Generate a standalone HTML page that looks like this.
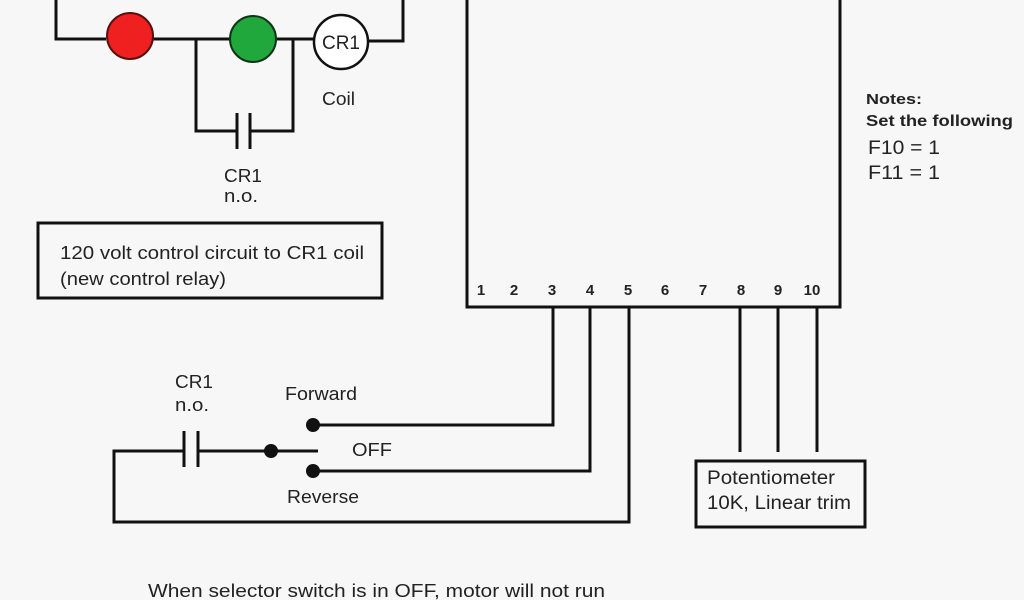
<!DOCTYPE html>
<html><head><meta charset="utf-8"><style>
html,body{margin:0;padding:0;background:#f7f7f7;}
svg{display:block;}
text{font-family:"Liberation Sans",sans-serif;fill:#222;}
</style></head><body>
<svg width="1024" height="600" viewBox="0 0 1024 600">
<rect width="1024" height="600" fill="#f7f7f7"/>
<g stroke="#111" stroke-width="3" fill="none">
<polyline points="56,0 56,39 106,39"/>
<line x1="153" y1="39" x2="230" y2="39"/>
<line x1="277" y1="39" x2="314" y2="39"/>
<polyline points="368,41 403,41 403,0"/>
<polyline points="196,39 196,131 237,131"/>
<polyline points="250,131 293,131 293,39"/>
<line x1="237" y1="113" x2="237" y2="149"/>
<line x1="250" y1="113" x2="250" y2="149"/>
<rect x="38" y="223" width="344" height="75"/>
<polyline points="467,0 467,307 840,307 840,0"/>
<polyline points="553,307 553,425 313,425"/>
<polyline points="590,307 590,471 313,471"/>
<polyline points="629,307 629,522 114,522 114,451 184,451"/>
<line x1="184" y1="431" x2="184" y2="467"/>
<line x1="198" y1="431" x2="198" y2="467"/>
<line x1="198" y1="451" x2="318" y2="451"/>
<line x1="740" y1="307" x2="740" y2="452"/>
<line x1="778" y1="307" x2="778" y2="452"/>
<line x1="817" y1="307" x2="817" y2="452"/>
<rect x="696" y="461" width="169" height="66"/>
</g>
<circle cx="130" cy="36" r="23" fill="#ee2020" stroke="#5a1010" stroke-width="2"/>
<circle cx="253" cy="39" r="23" fill="#21a83c" stroke="#113318" stroke-width="2"/>
<circle cx="341" cy="42" r="27" fill="#fff" stroke="#111" stroke-width="2.5"/>
<g fill="#111">
<circle cx="313" cy="425" r="7"/><circle cx="313" cy="471" r="7"/><circle cx="271" cy="451" r="7"/>
</g>
<g lengthAdjust="spacingAndGlyphs">
<text x="341" y="49" font-size="19" text-anchor="middle">CR1</text>
<text x="322" y="105" font-size="18" textLength="33" lengthAdjust="spacingAndGlyphs">Coil</text>
<text x="224" y="182" font-size="18" textLength="38" lengthAdjust="spacingAndGlyphs">CR1</text>
<text x="224" y="202" font-size="18" textLength="34" lengthAdjust="spacingAndGlyphs">n.o.</text>
<text x="60" y="259" font-size="18" textLength="304" lengthAdjust="spacingAndGlyphs">120 volt control circuit to CR1 coil</text>
<text x="60" y="285" font-size="18" textLength="166" lengthAdjust="spacingAndGlyphs">(new control relay)</text>
</g>
<g font-size="15" font-weight="bold" text-anchor="middle">
<text x="481" y="295">1</text><text x="514" y="295">2</text><text x="552" y="295">3</text><text x="590" y="295">4</text><text x="628" y="295">5</text><text x="665" y="295">6</text><text x="703" y="295">7</text><text x="741" y="295">8</text><text x="778" y="295">9</text><text x="812" y="295">10</text>
</g>
<text x="866" y="104" font-size="15" font-weight="bold" textLength="56" lengthAdjust="spacingAndGlyphs">Notes:</text>
<text x="866" y="126" font-size="16" font-weight="bold" textLength="147" lengthAdjust="spacingAndGlyphs">Set the following</text>
<text x="868" y="154" font-size="19" textLength="72" lengthAdjust="spacingAndGlyphs">F10 = 1</text>
<text x="868" y="179" font-size="19" textLength="72" lengthAdjust="spacingAndGlyphs">F11 = 1</text>
<text x="175" y="388" font-size="18" textLength="38" lengthAdjust="spacingAndGlyphs">CR1</text>
<text x="175" y="411" font-size="18" textLength="34" lengthAdjust="spacingAndGlyphs">n.o.</text>
<text x="285" y="400" font-size="18" textLength="72" lengthAdjust="spacingAndGlyphs">Forward</text>
<text x="352" y="456" font-size="18" textLength="40" lengthAdjust="spacingAndGlyphs">OFF</text>
<text x="287" y="503" font-size="18" textLength="72" lengthAdjust="spacingAndGlyphs">Reverse</text>
<text x="707" y="484" font-size="19" textLength="128" lengthAdjust="spacingAndGlyphs">Potentiometer</text>
<text x="707" y="509" font-size="19" textLength="144" lengthAdjust="spacingAndGlyphs">10K, Linear trim</text>
<text x="148" y="597" font-size="18" textLength="457" lengthAdjust="spacingAndGlyphs">When selector switch is in OFF, motor will not run</text>
</svg>
</body></html>
